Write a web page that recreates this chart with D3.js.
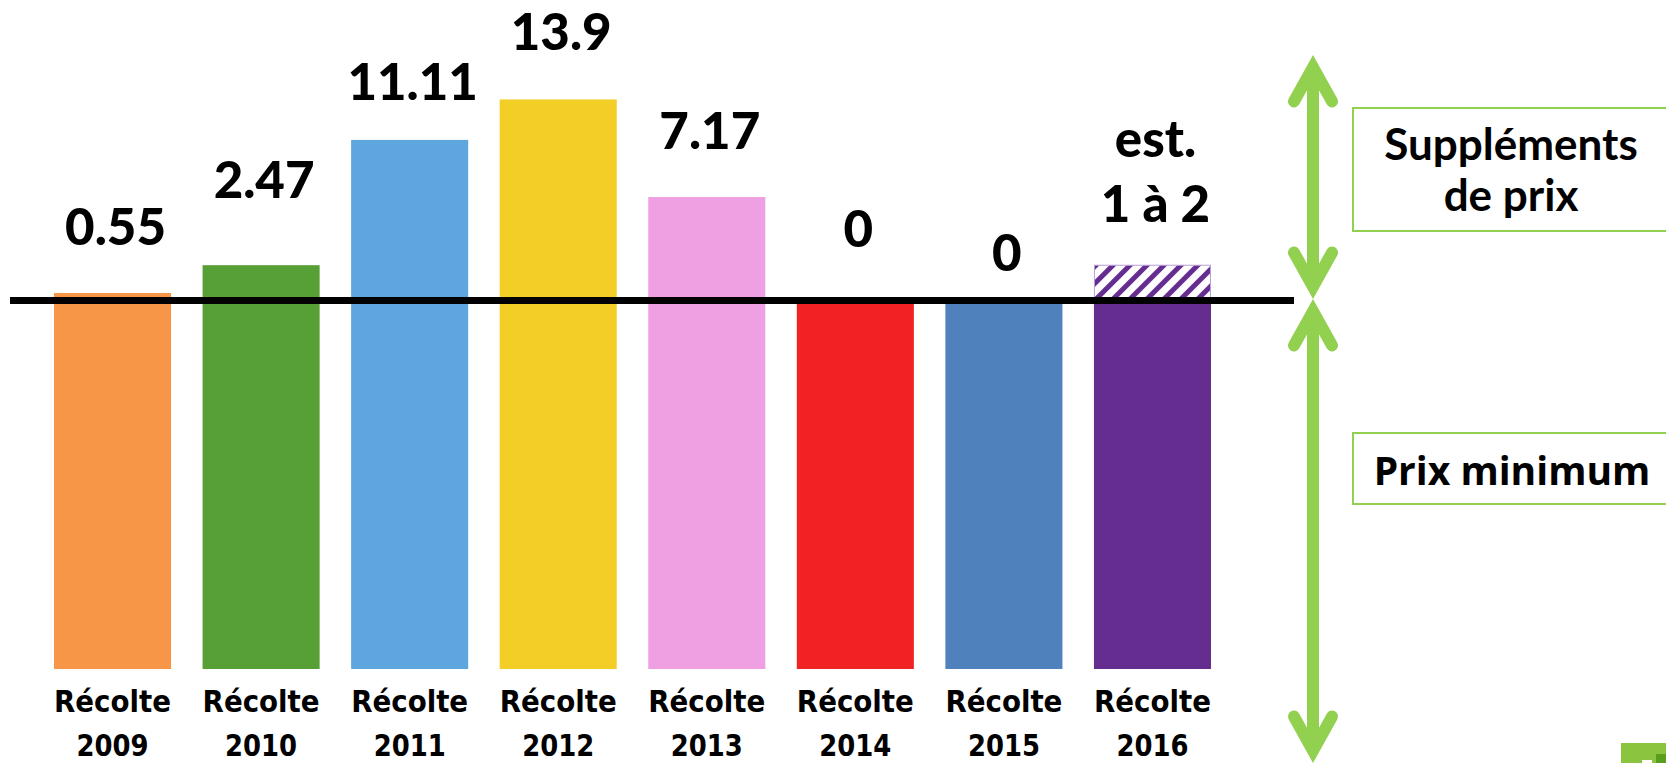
<!DOCTYPE html>
<html>
<head>
<meta charset="utf-8">
<script src="https://cdn.jsdelivr.net/npm/d3@7"></script>
<style>
  body { margin: 0; background: #fff; }
  svg { display: block; }
</style>
</head>
<body>
<div class="chart"></div>
<script>
// data
const years = ["2009", "2010", "2011", "2012", "2013", "2014", "2015", "2016"];
const supplements = [0.55, 2.47, 11.11, 13.9, 7.17, 0, 0, 0];
const valueLabels = [["0.55"], ["2.47"], ["11.11"], ["13.9"], ["7.17"], ["0"], ["0"], ["est.", "1 à 2"]];
const estimateTop = [null, null, null, null, null, null, null, 2.5];
const tickPrefix = "Récolte";
const sideLabels = [["Suppléments", "de prix"], ["Prix minimum"]];

// styles
const barColors = ["#F79646", "#56A036", "#5DA7DE", "#F3CE27", "#EFA0E3", "#F02223", "#4F81BD", "#662D91"];
const labelLift = [48, 67, 40, 49, 48, 54, 30, 43];
const green = "#92D050";

var width = 1666;
var height = 763;
var barBottom = 669;

var svg = d3.select(".chart").append("svg")
    .attr("width", width)
    .attr("height", height);

var x = d3.scaleBand()
    .domain(years)
    .range([54, 1211])
    .paddingInner(0.212)
    .paddingOuter(0);

var y = d3.scaleLinear()
    .domain([0, 14])
    .range([301, 301 - 14 * 14.5]);

// hatch pattern for the estimate
var defs = svg.append("defs");
var pat = defs.append("pattern")
    .attr("id", "hatch")
    .attr("patternUnits", "userSpaceOnUse")
    .attr("width", 12)
    .attr("height", 12)
    .attr("patternTransform", "rotate(45)");
pat.append("rect").attr("width", 12).attr("height", 12).attr("fill", "#fff");
pat.append("rect").attr("width", 5).attr("height", 12).attr("fill", "#662D91");

// bars: supplement on top of the minimum price block
svg.selectAll("rect.bar")
    .data(years)
    .enter()
    .append("rect")
    .attr("class", "bar")
    .attr("x", d => x(d))
    .attr("y", (d, i) => y(supplements[i]))
    .attr("width", x.bandwidth())
    .attr("height", (d, i) => barBottom - y(supplements[i]))
    .attr("fill", (d, i) => barColors[i]);

// estimated range
svg.selectAll("rect.est")
    .data(years.filter((d, i) => estimateTop[i] != null))
    .enter()
    .append("rect")
    .attr("class", "est")
    .attr("x", d => x(d) + 0.5)
    .attr("y", d => y(estimateTop[years.indexOf(d)]) + 0.5)
    .attr("width", x.bandwidth() - 1)
    .attr("height", d => y(0) - y(estimateTop[years.indexOf(d)]) - 1)
    .attr("fill", "url(#hatch)")
    .attr("stroke", "#B9A0D6")
    .attr("stroke-width", 1);

// black threshold line
svg.append("line")
    .attr("x1", 10)
    .attr("x2", 1294)
    .attr("y1", y(0) - 0.5)
    .attr("y2", y(0) - 0.5)
    .attr("stroke", "#000")
    .attr("stroke-width", 7);

// value labels
var vl = svg.selectAll("text.val")
    .data(years)
    .enter()
    .append("text")
    .attr("class", "val")
    .attr("text-anchor", "middle")
    .attr("font-family", "Lato, sans-serif")
    .attr("font-weight", 900)
    .attr("font-size", 51)
    .attr("fill", "#000")
    .attr("y", (d, i) => {
        var top = estimateTop[i] != null ? y(estimateTop[i]) : y(supplements[i]);
        return top - labelLift[i] - (valueLabels[i].length - 1) * 65;
    });
vl.each(function(d, i) {
    var t = d3.select(this);
    valueLabels[i].forEach((s, k) => {
        t.append("tspan")
            .attr("x", x(d) + x.bandwidth() / 2 + 3)
            .attr("dy", k === 0 ? 0 : 65)
            .text(s);
    });
});

// category labels
var cat = svg.append("g")
    .attr("font-family", "'DejaVu Sans Condensed', 'DejaVu Sans', sans-serif")
    .attr("font-weight", "bold")
    .attr("font-size", 31)
    .attr("fill", "#000")
    .attr("text-anchor", "middle");
cat.selectAll("text.pre")
    .data(years)
    .enter()
    .append("text")
    .attr("x", d => x(d) + x.bandwidth() / 2)
    .attr("y", 712)
    .attr("textLength", 117)
    .attr("lengthAdjust", "spacingAndGlyphs")
    .text(tickPrefix);
cat.selectAll("text.yr")
    .data(years)
    .enter()
    .append("text")
    .attr("x", d => x(d) + x.bandwidth() / 2)
    .attr("y", 756)
    .attr("textLength", 72)
    .attr("lengthAdjust", "spacingAndGlyphs")
    .text(d => d);

// double arrows on the right
var ax = 1313;
function arrow(top, bottom) {
    var ext = 12.4, dx = 19, dy = 34;
    var g = svg.append("g")
        .attr("fill", "none")
        .attr("stroke", green)
        .attr("stroke-width", 12);
    g.append("line")
        .attr("x1", ax).attr("x2", ax)
        .attr("y1", top + ext).attr("y2", bottom - ext);
    g.append("path")
        .attr("stroke-linecap", "round")
        .attr("stroke-linejoin", "miter")
        .attr("d", `M${ax - dx},${top + ext + dy}L${ax},${top + ext}L${ax + dx},${top + ext + dy}`);
    g.append("path")
        .attr("stroke-linecap", "round")
        .attr("stroke-linejoin", "miter")
        .attr("d", `M${ax - dx},${bottom - ext - dy}L${ax},${bottom - ext}L${ax + dx},${bottom - ext - dy}`);
}
arrow(55, 299);
arrow(299, 763);

// side boxes
svg.append("rect")
    .attr("x", 1353).attr("y", 108)
    .attr("width", 330).attr("height", 123)
    .attr("fill", "none").attr("stroke", green).attr("stroke-width", 2);
svg.append("rect")
    .attr("x", 1353).attr("y", 433)
    .attr("width", 330).attr("height", 71)
    .attr("fill", "none").attr("stroke", green).attr("stroke-width", 2);

var sup = svg.append("text")
    .attr("font-family", "Lato, sans-serif")
    .attr("font-weight", "bold")
    .attr("font-size", 44)
    .attr("text-anchor", "middle")
    .attr("y", 160);
sideLabels[0].forEach((s, k) => {
    sup.append("tspan").attr("x", 1511).attr("dy", k === 0 ? 0 : 51).text(s);
});

svg.append("text")
    .attr("font-family", "'Open Sans', sans-serif")
    .attr("font-weight", "bold")
    .attr("font-size", 39)
    .attr("text-anchor", "middle")
    .attr("x", 1512)
    .attr("y", 485)
    .text(sideLabels[1][0]);

// cropped logo corner
svg.append("rect").attr("x", 1621).attr("y", 743).attr("width", 45).attr("height", 20).attr("fill", "#8BC43F");
svg.append("rect").attr("x", 1656).attr("y", 754).attr("width", 10).attr("height", 9).attr("fill", "#5A9E1E");
svg.append("rect").attr("x", 1642).attr("y", 760).attr("width", 10).attr("height", 3).attr("fill", "#fff");
</script>
</body>
</html>
